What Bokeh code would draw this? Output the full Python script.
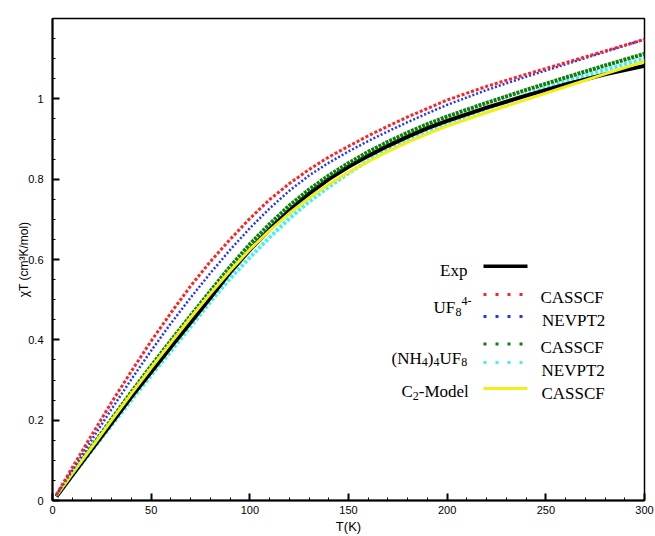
from bokeh.plotting import figure
from bokeh.models import Range1d, SingleIntervalTicker, CustomJSTickFormatter, Label
from bokeh.embed import file_html
from bokeh.resources import INLINE

# ---------------- data ----------------
T = [2, 10, 20, 30, 40, 50, 60, 70, 80, 90, 100, 110, 120, 130, 140, 150, 160, 170, 180, 190,
     200, 220, 240, 260, 280, 300]

exp_chiT = [0.010, 0.063, 0.128, 0.193, 0.258, 0.320, 0.382, 0.443, 0.505, 0.568, 0.624, 0.675,
            0.722, 0.764, 0.800, 0.831, 0.858, 0.883, 0.906, 0.927, 0.945, 0.978, 1.008, 1.036,
            1.061, 1.082]
uf8_casscf = [0.015, 0.082, 0.164, 0.245, 0.322, 0.397, 0.467, 0.534, 0.595, 0.650, 0.702, 0.749,
              0.789, 0.824, 0.855, 0.882, 0.908, 0.932, 0.955, 0.976, 0.997, 1.031, 1.061, 1.090,
              1.119, 1.148]
uf8_nevpt2 = [0.013, 0.075, 0.152, 0.228, 0.302, 0.373, 0.441, 0.505, 0.566, 0.624, 0.678, 0.727,
              0.771, 0.809, 0.841, 0.869, 0.895, 0.919, 0.942, 0.964, 0.985, 1.022, 1.055, 1.086,
              1.117, 1.148]
nh4_casscf = [0.012, 0.068, 0.135, 0.203, 0.270, 0.335, 0.398, 0.460, 0.521, 0.582, 0.638, 0.688,
              0.734, 0.774, 0.809, 0.840, 0.868, 0.893, 0.916, 0.937, 0.956, 0.990, 1.022, 1.053,
              1.083, 1.112]
nh4_nevpt2 = [0.010, 0.062, 0.125, 0.188, 0.250, 0.312, 0.372, 0.433, 0.495, 0.553, 0.605, 0.655,
              0.702, 0.744, 0.781, 0.815, 0.846, 0.873, 0.897, 0.920, 0.940, 0.976, 1.010, 1.043,
              1.072, 1.100]
c2_casscf = [0.012, 0.067, 0.133, 0.200, 0.266, 0.330, 0.393, 0.455, 0.515, 0.572, 0.625, 0.672,
             0.715, 0.753, 0.787, 0.817, 0.844, 0.869, 0.892, 0.913, 0.932, 0.966, 0.998, 1.030,
             1.062, 1.093]

x_ticks_interval = 50
y_ticks_interval = 0.2

# ---------------- figure ----------------
W, H = 655, 536
ML, MR, MT, MB = 52, 11, 18, 36
XMAX, YMAX = 300, 1.2

p = figure(width=W, height=H, output_backend="svg", toolbar_location=None,
           x_range=Range1d(0, XMAX), y_range=Range1d(0, YMAX),
           min_border_left=ML, min_border_right=MR, min_border_top=MT, min_border_bottom=MB,
           x_axis_label="T(K)", y_axis_label="\u03c7T (cm\u00b3K/mol)")
p.background_fill_color = "white"
p.border_fill_color = "white"
p.grid.visible = False
p.outline_line_color = "black"
p.outline_line_width = 1.5

SANS = "Liberation Sans"
SERIF = "Liberation Serif"

p.xaxis.ticker = SingleIntervalTicker(interval=x_ticks_interval, num_minor_ticks=5)
p.yaxis.ticker = SingleIntervalTicker(interval=y_ticks_interval, num_minor_ticks=4)
p.yaxis.formatter = CustomJSTickFormatter(code="return (Math.round(tick*10)/10).toString();")

for ax in (p.xaxis[0], p.yaxis[0]):
    ax.axis_line_color = "black"
    ax.axis_line_width = 2
    ax.major_tick_in = 7
    ax.major_tick_out = 0
    ax.minor_tick_in = 3
    ax.minor_tick_out = 0
    ax.major_tick_line_width = 2
    ax.minor_tick_line_width = 1
    ax.major_tick_line_color = "black"
    ax.minor_tick_line_color = "black"
    ax.major_label_text_font = SANS
    ax.major_label_text_font_size = "11px"
    ax.major_label_text_color = "black"
    ax.axis_label_text_font = SANS
    ax.axis_label_text_font_style = "normal"
    ax.axis_label_text_color = "black"

p.xaxis.major_label_standoff = 5
p.xaxis.axis_label_standoff = 2
p.xaxis.axis_label_text_font_size = "13px"
p.yaxis.major_label_standoff = 9
p.yaxis.axis_label_standoff = -6
p.yaxis.axis_label_text_font_size = "12px"

# ---------------- curves ----------------
styles = [
    (nh4_nevpt2, "#3ff2f0", 4, "3 2"),
    (exp_chiT, "black", 4, "solid"),
    (nh4_casscf, "#0b800b", 4, "3 1"),
    (c2_casscf, "#f2ee1c", 3, "solid"),
    (uf8_nevpt2, "#2233ff", 2.5, "2 2"),
    (uf8_casscf, "#ff2222", 3, "3 2"),
]
for ys, col, w, dash in styles:
    p.line(T, ys, line_color=col, line_width=w, line_dash=dash)

# ---------------- custom legend ----------------
XS = (W - ML - MR) / XMAX
YS = (H - MT - MB) / YMAX
Y0 = H - MB


def dx(px):
    return (px - ML) / XS


def dy(py):
    return (Y0 - py) / YS


def txt(s, px, py, size=17):
    p.add_layout(Label(x=dx(px), y=dy(py), text=s, text_font=SERIF,
                       text_font_size=f"{size}px", text_baseline="alphabetic",
                       text_align="left", text_color="black"))


def swatch(py, col, w, dash):
    p.segment(x0=[dx(483)], y0=[dy(py)], x1=[dx(527)], y1=[dy(py)],
              line_color=col, line_width=w, line_dash=dash)


# group labels
p.add_layout(Label(x=dx(467), y=dy(270), text="Exp", text_font=SERIF, text_font_size="17px",
                   text_baseline="alphabetic", text_align="right", text_color="black"))
txt("UF", 433, 306.5)
txt("8", 455, 311, 12)
txt("4-", 461, 300, 12)

txt("(NH", 391, 357.5)
txt("4", 421.3, 361.5, 12)
txt(")", 427.3, 357.5)
txt("4", 433, 361.5, 12)
txt("UF", 439, 357.5)
txt("8", 460.7, 361.5, 12)

txt("C", 401, 391)
txt("2", 412.3, 395, 12)
txt("-Model", 418.3, 391)

# swatches
swatch(265.7, "black", 3.5, "solid")
swatch(294, "#ff2222", 3, "3 9")
swatch(316, "#2233ff", 3, "3 9")
swatch(343.5, "#0b800b", 3, "3 9")
swatch(362, "#3ff2f0", 3, "3 9")
swatch(388, "#f2ee1c", 3, "solid")

# method labels
txt("CASSCF", 540, 296.5)
txt("NEVPT2", 541.5, 320)
txt("CASSCF", 540, 346.5)
txt("NEVPT2", 541, 370)
txt("CASSCF", 541, 393)

open("out.html", "w").write(file_html(p, INLINE))
